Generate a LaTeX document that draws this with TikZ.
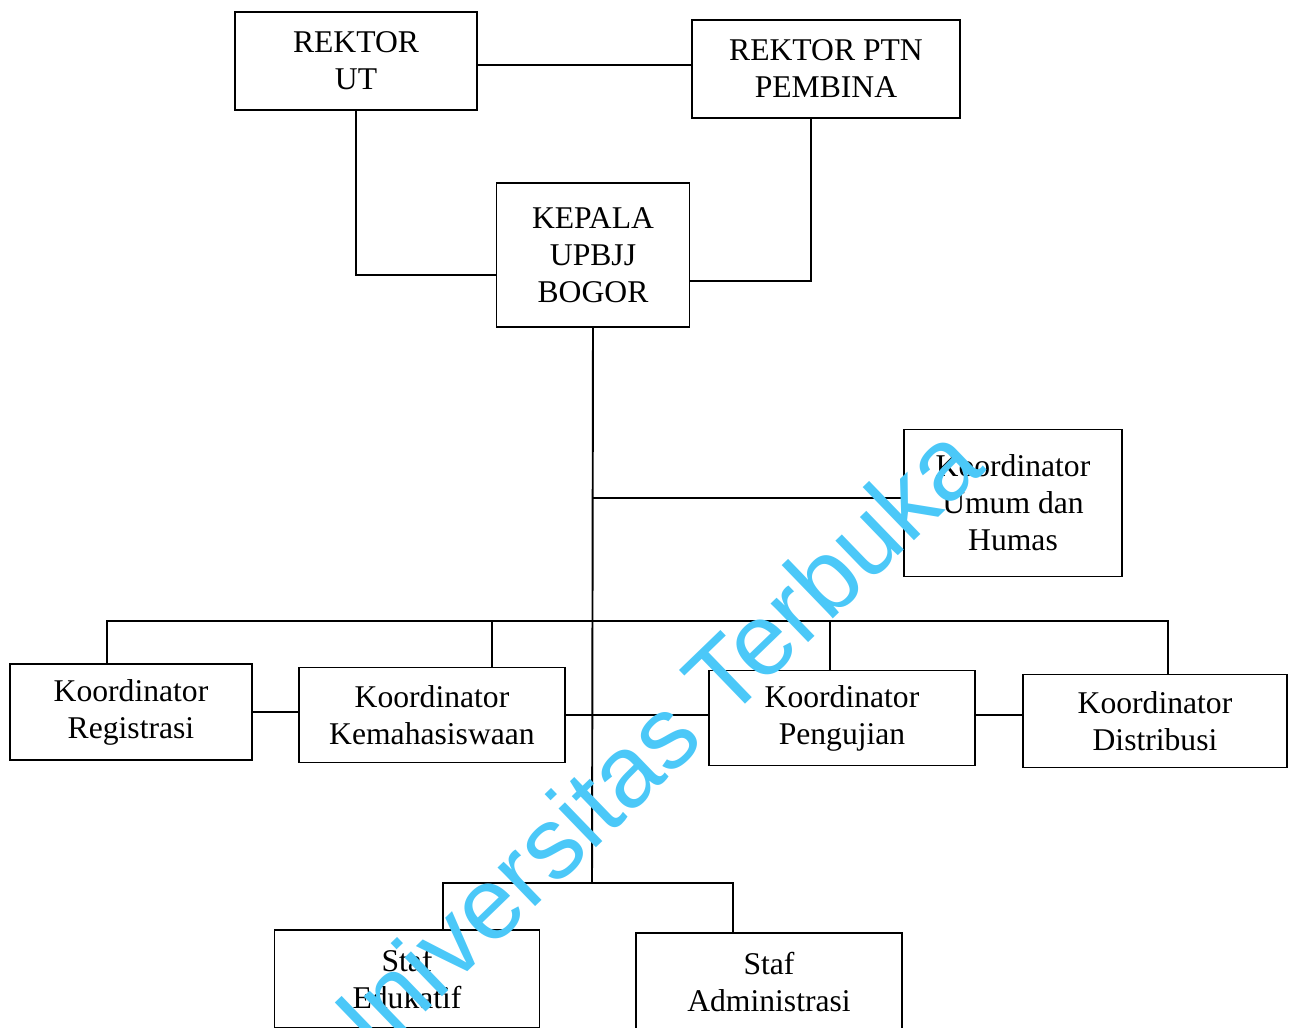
\documentclass[tikz,border=0pt]{standalone}
\usepackage{fontspec}
\setmainfont{Liberation Serif}
\newfontfamily\markfont{Liberation Sans}
\usetikzlibrary{positioning}
\definecolor{wmark}{RGB}{75, 200, 248}

\begin{document}
\begin{tikzpicture}[line width=1.1pt,
    box/.style={rectangle, draw, line width=1.1pt, align=center, inner sep=2pt,
                font=\fontsize{18}{21}\selectfont}]

    \useasboundingbox (0,0) rectangle (25.86,-20.54);
    \clip (0,0) rectangle (25.86,-20.54);

    % Top level
    \node[box, minimum width=4.84cm, minimum height=1.96cm] (rut) at (7.12, -1.22) {REKTOR\\UT};
    \node[box, minimum width=5.36cm, minimum height=1.96cm] (rptn) at (16.52, -1.38) {REKTOR PTN\\PEMBINA};

    % Head of unit
    \node[box, minimum width=3.86cm, minimum height=2.88cm] (kepala) at (11.86, -5.10) {KEPALA\\UPBJJ\\BOGOR};

    % Coordinators
    \node[box, minimum width=4.36cm, minimum height=2.94cm] (humas) at (20.26, -10.06) {Koordinator\\Umum dan\\Humas};
    \node[box, minimum width=4.84cm, minimum height=1.92cm] (reg) at (2.62, -14.24) {Koordinator\\Registrasi};
    \node[box, minimum width=5.32cm, minimum height=1.90cm] (kema) at (8.64, -14.30) {Koordinator\\Kemahasiswaan};
    \node[box, minimum width=5.32cm, minimum height=1.90cm] (uji) at (16.84, -14.36) {Koordinator\\Pengujian};
    \node[box, minimum width=5.28cm, minimum height=1.86cm] (dist) at (23.10, -14.42) {Koordinator\\Distribusi};

    % Staff
    \node[box, minimum width=5.30cm, minimum height=1.96cm] (edu) at (8.14, -19.58) {Staf\\Edukatif};
    \node[box, minimum width=5.32cm, minimum height=1.96cm] (adm) at (15.38, -19.64) {Staf\\Administrasi};

    \coordinate (bus) at (11.84, -12.42);
    \coordinate (trunk) at (11.84, -17.66);

    % Lines
    \draw ([yshift=-0.08cm]rut.east) -- ([yshift=-0.08cm]rut.east -| rptn.west);
    \draw (rut.south) |- ([yshift=-0.40cm]kepala.west);
    \draw ([xshift=-0.30cm]rptn.south) |- ([yshift=-0.52cm]kepala.east);
    \draw (kepala.south) -- (trunk);
    \draw ([yshift=0.10cm]kepala.south |- humas.west) -- ([yshift=0.10cm]humas.west);
    \draw ([xshift=-0.48cm]reg.north) |- (bus) -| ([xshift=0.26cm]dist.north);
    \draw ([xshift=1.20cm]kema.north) -- ([xshift=1.20cm]kema.north |- bus);
    \draw ([xshift=-0.24cm]uji.north) -- ([xshift=-0.24cm]uji.north |- bus);
    \draw (reg.east) -- (reg.east -| kema.west);
    \draw (kema.east) -- (kema.east -| uji.west);
    \draw ([yshift=0.06cm]uji.east) -- ([yshift=0.06cm]uji.east -| dist.west);
    \draw ([xshift=0.72cm]edu.north) |- (trunk) -| ([xshift=-0.72cm]adm.north);

    % Watermark
    \node[text=wmark, rotate=44, font=\markfont\fontsize{58}{60}\selectfont] (mark) at (12.80, -15.10) {Universitas Terbuka};
\end{tikzpicture}
\end{document}
